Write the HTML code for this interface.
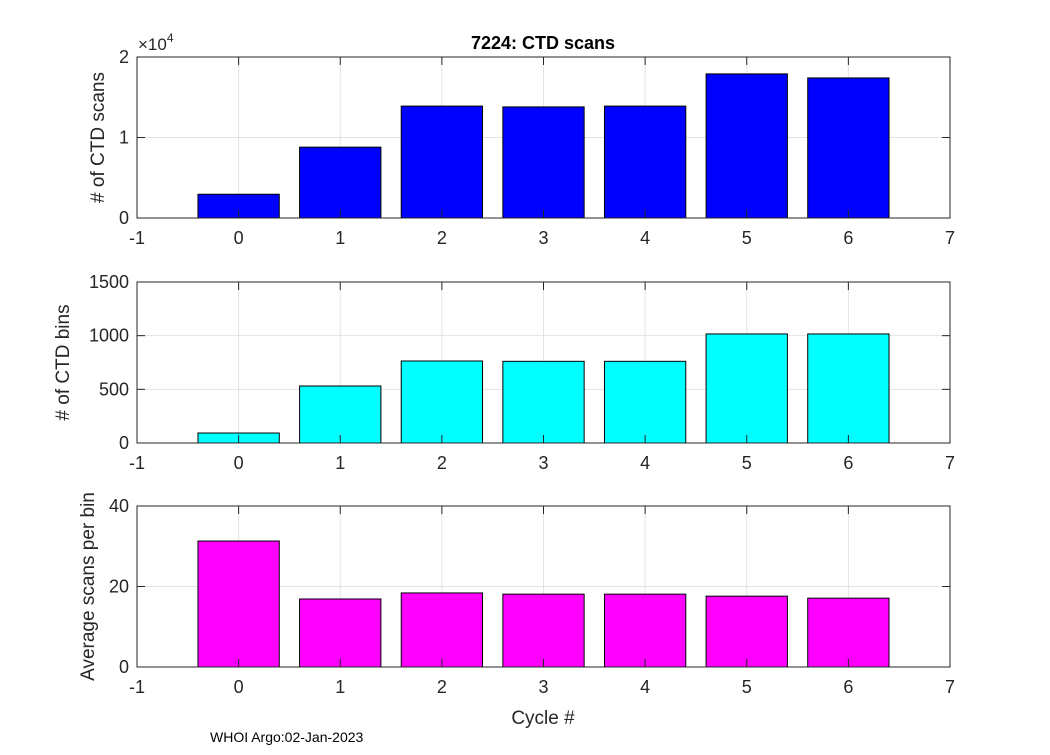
<!DOCTYPE html>
<html><head><meta charset="utf-8"><style>
body{margin:0;background:#fff;}
svg text{font-family:"Liberation Sans",Arial,sans-serif;}
</style></head><body>
<svg id="chart" width="1050" height="750" xmlns="http://www.w3.org/2000/svg"></svg>
<script>
const cycles=[0,1,2,3,4,5,6];
const scans=[2950,8800,13900,13800,13900,17900,17400];
const bins=[93,531,764,761,761,1016,1016];
const avgScans=[31.3,16.9,18.4,18.1,18.1,17.6,17.1];
const xTicks=[-1,0,1,2,3,4,5,6,7];
const yTicks1=[0,1,2];
const yTicks2=[0,500,1000,1500];
const yTicks3=[0,20,40];

const NS="http://www.w3.org/2000/svg";
const svg=document.getElementById('chart');
function mk(tag,attrs,parent){const e=document.createElementNS(NS,tag);for(const k in attrs)e.setAttribute(k,attrs[k]);(parent||svg).appendChild(e);return e;}
const L=137,R=950;
const xs=v=>L+(v+1)/8*(R-L);

function panel(top,bottom,vals,yMax,ticks,tickScale,color,ylabel,name,labelX){
  const g=mk('g',{});
  
  
  const ys=v=>bottom-v/yMax*(bottom-top);
  mk('rect',{x:L,y:top,width:R-L,height:bottom-top,fill:'#fff'},g);
  xTicks.forEach(t=>{mk('line',{x1:xs(t),x2:xs(t),y1:top,y2:bottom,stroke:'#e3e3e3','stroke-width':1},g);});
  ticks.forEach(t=>{mk('line',{x1:L,x2:R,y1:ys(t*tickScale),y2:ys(t*tickScale),stroke:'#e3e3e3','stroke-width':1},g);});
  vals.forEach((v,i)=>{
    const b=mk('rect',{x:xs(cycles[i]-0.4),y:ys(v),width:xs(0.8)-xs(0),height:bottom-ys(v),fill:color,stroke:'#000','stroke-width':1},g);
    
    
  });
  mk('rect',{x:L,y:top,width:R-L,height:bottom-top,fill:'none',stroke:'#262626','stroke-width':1},g);
  xTicks.forEach(t=>{
    mk('line',{x1:xs(t),x2:xs(t),y1:bottom,y2:bottom-8,stroke:'#262626'},g);
    mk('line',{x1:xs(t),x2:xs(t),y1:top,y2:top+8,stroke:'#262626'},g);
    const tx=mk('text',{x:xs(t),y:bottom+26,'font-size':18,'text-anchor':'middle',fill:'#262626'},g);tx.textContent=t;
  });
  ticks.forEach(t=>{
    const y=ys(t*tickScale);
    mk('line',{x1:L,x2:L+8,y1:y,y2:y,stroke:'#262626'},g);
    mk('line',{x1:R,x2:R-8,y1:y,y2:y,stroke:'#262626'},g);
    const tx=mk('text',{x:L-8,y:y+6,'font-size':18,'text-anchor':'end',fill:'#262626'},g);tx.textContent=t;
  });
  const yl=mk('text',{x:0,y:0,'font-size':19,'text-anchor':'middle',fill:'#262626',transform:`translate(${labelX},${(top+bottom)/2}) rotate(-90)`},g);
  yl.textContent=ylabel;
  
  
}
panel(57,218,scans,20000,yTicks1,10000,'#0000ff','# of CTD scans','scans-panel',104);
panel(282,443,bins,1500,yTicks2,1,'#00ffff','# of CTD bins','bins-panel',69);
panel(506,667,avgScans,40,yTicks3,1,'#ff00ff','Average scans per bin','avg-panel',94);

let t=mk('text',{x:138,y:50,'font-size':17,fill:'#262626'});t.innerHTML='×10<tspan font-size="12" dy="-8">4</tspan>';

t=mk('text',{x:543,y:49,'font-size':18,'font-weight':'bold','text-anchor':'middle',fill:'#000'});t.textContent='7224: CTD scans';

t=mk('text',{x:543,y:724,'font-size':19,'text-anchor':'middle',fill:'#262626'});t.textContent='Cycle #';

t=mk('text',{x:210,y:742,'font-size':14,fill:'#000'});t.textContent='WHOI Argo:02-Jan-2023';

</script>
</body></html>
